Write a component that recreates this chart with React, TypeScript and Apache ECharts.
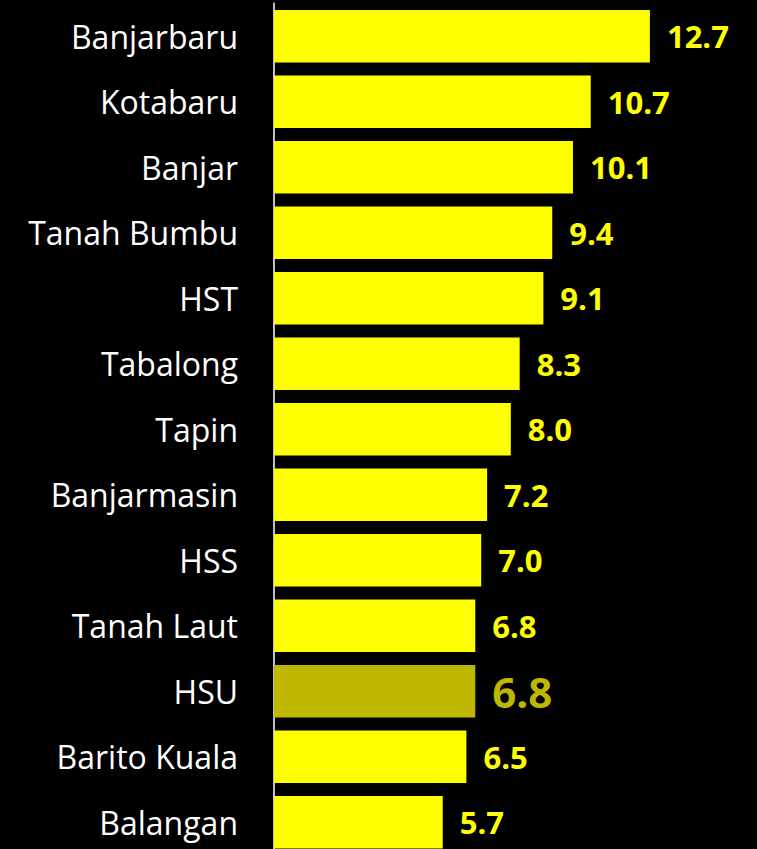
import React, { useEffect, useRef } from "react";
import * as echarts from "echarts";

const categories = ["Banjarbaru", "Kotabaru", "Banjar", "Tanah Bumbu", "HST", "Tabalong", "Tapin", "Banjarmasin", "HSS", "Tanah Laut", "HSU", "Barito Kuala", "Balangan"];
const values = [12.7, 10.7, 10.1, 9.4, 9.1, 8.3, 8.0, 7.2, 7.0, 6.8, 6.8, 6.5, 5.7];
const highlight = "HSU";

export default function App() {
  const ref = useRef<HTMLDivElement>(null);
  useEffect(() => {
    const chart = echarts.init(ref.current!, null, { renderer: "svg" });
    const font = "'Open Sans', sans-serif";
    const data = values.map((v, i) => {
      const hl = categories[i] === highlight;
      return {
        value: v,
        itemStyle: { color: hl ? "#BFB800" : "#FFFF00" },
        label: hl
          ? { color: "#BFB800", fontSize: 42, fontWeight: "bold" }
          : { color: "#FFFF00", fontSize: 31, fontWeight: "bold" },
      };
    });
    chart.setOption({
      animation: false,
      backgroundColor: "#000000",
      grid: { left: 274, right: 9.4, top: 3.5, bottom: 0, containLabel: false },
      xAxis: { type: "value", min: 0, max: 16, show: false },
      yAxis: {
        type: "category",
        data: categories,
        inverse: true,
        axisLine: { show: true, lineStyle: { color: "#BFBFBF", width: 2 } },
        axisTick: { show: false },
        axisLabel: { color: "#FFFFFF", fontSize: 32, fontFamily: font, margin: 36 },
      },
      series: [
        {
          type: "bar",
          data,
          barCategoryGap: "20%",
          label: {
            show: true,
            position: "right",
            distance: 17,
            fontFamily: font,
            formatter: (p: any) => p.value.toFixed(1),
          },
        },
      ],
    });
    return () => chart.dispose();
  }, []);
  return (
    <div
      ref={ref}
      style={{ position: "absolute", left: 0, top: 0, width: 757, height: 855 }}
    />
  );
}
